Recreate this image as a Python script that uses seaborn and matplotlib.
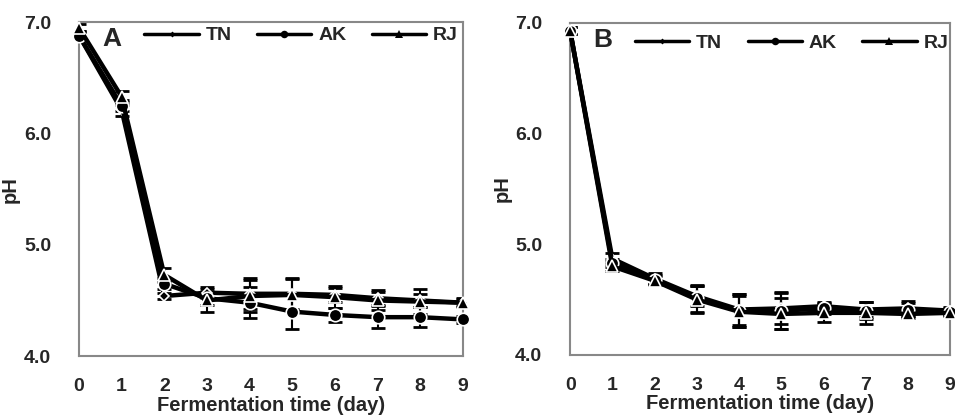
import pandas as pd
import matplotlib.pyplot as plt
import seaborn as sns

# Данные (pH по дням ферментации)
days = [0, 1, 2, 3, 4, 5, 6, 7, 8, 9]
samples = ['TN', 'AK', 'RJ']

# Панель A
a_tn = [6.88, 6.21, 4.54, 4.57, 4.56, 4.56, 4.55, 4.52, 4.50, 4.48]
a_ak = [6.88, 6.25, 4.65, 4.52, 4.48, 4.40, 4.37, 4.35, 4.35, 4.33]
a_rj = [6.95, 6.33, 4.73, 4.50, 4.54, 4.55, 4.53, 4.50, 4.49, 4.48]
a_tn_err = [0.04, 0.05, 0.03, 0.05, 0.14, 0.14, 0.06, 0.06, 0.06, 0.03]
a_ak_err = [0.03, 0.05, 0.05, 0.06, 0.14, 0.16, 0.06, 0.10, 0.09, 0.03]
a_rj_err = [0.03, 0.05, 0.06, 0.10, 0.14, 0.14, 0.10, 0.09, 0.11, 0.04]

# Панель B
b_tn = [6.93, 4.87, 4.69, 4.53, 4.41, 4.42, 4.44, 4.41, 4.42, 4.40]
b_ak = [6.93, 4.83, 4.68, 4.51, 4.40, 4.40, 4.42, 4.40, 4.41, 4.39]
b_rj = [6.93, 4.80, 4.67, 4.50, 4.39, 4.37, 4.38, 4.38, 4.37, 4.38]
b_tn_err = [0.03, 0.05, 0.05, 0.09, 0.14, 0.14, 0.04, 0.07, 0.07, 0.03]
b_ak_err = [0.03, 0.04, 0.04, 0.12, 0.15, 0.17, 0.05, 0.08, 0.06, 0.03]
b_rj_err = [0.03, 0.04, 0.04, 0.12, 0.14, 0.14, 0.08, 0.10, 0.04, 0.03]

markers = {'TN': 'D', 'AK': 'o', 'RJ': '^'}
msizes = {'TN': 5, 'AK': 9, 'RJ': 9}

sns.set_style('white')
plt.rcParams['font.family'] = ['Liberation Sans', 'DejaVu Sans']
plt.rcParams['font.weight'] = 'bold'

fig = plt.figure(figsize=(9.55, 4.18), dpi=100)
ax_a = fig.add_axes([0.0827, 0.148, 0.402, 0.799])
ax_b = fig.add_axes([0.597, 0.151, 0.398, 0.794])


def draw_panel(ax, vals, errs, letter, leg_y):
    rows = []
    for s in samples:
        for d, v in zip(days, vals[s]):
            rows.append({'day': d, 'pH': v, 'sample': s})
    df = pd.DataFrame(rows)

    # Планки погрешностей
    for s in samples:
        ax.errorbar(days, vals[s], yerr=errs[s], fmt='none', ecolor='black',
                    elinewidth=1.5, capsize=5, capthick=2, zorder=1)

    for s in samples:
        sns.lineplot(data=df[df['sample'] == s], x='day', y='pH', ax=ax,
                     color='black', lw=3.2, marker=markers[s], ms=msizes[s],
                     markeredgecolor='white', markeredgewidth=1.2,
                     label=s, zorder=3, clip_on=False)

    ax.set_xlim(0, 9)
    ax.set_ylim(4.0, 7.0)
    ax.set_xticks(days)
    ax.set_yticks([4.0, 5.0, 6.0, 7.0])
    ax.set_yticklabels(['4.0', '5.0', '6.0', '7.0'])
    ax.tick_params(axis='x', direction='in', length=6, width=1.2, color='#888888',
                   pad=16, labelsize=14)
    ax.tick_params(axis='y', direction='in', length=5, width=1.2, color='#888888',
                   pad=20, labelsize=14)
    for lab in ax.get_xticklabels() + ax.get_yticklabels():
        lab.set_fontweight('bold')
    for sp in ax.spines.values():
        sp.set_color('#888888')
        sp.set_linewidth(1.5)
    ax.set_xlabel('Fermentation time (day)', fontsize=14.5, fontweight='bold')
    ax.xaxis.set_label_coords(0.5, -0.118)
    ax.set_ylabel('pH', fontsize=14.5, fontweight='bold')
    ax.yaxis.set_label_coords(-0.155, 0.5)

    ax.text(0.06, 0.985, letter, transform=ax.transAxes, fontsize=19,
            fontweight='bold', va='top', ha='left')
    leg = ax.legend(loc='center left', bbox_to_anchor=(0.15, leg_y), ncol=3,
                    frameon=False, handlelength=2.8, columnspacing=1.3,
                    handletextpad=0.35, markerscale=0.6, borderaxespad=0,
                    prop={'weight': 'bold', 'size': 14})
    for h in leg.legend_handles:
        h.set_linewidth(2.5)
        h.set_markeredgewidth(0)


draw_panel(ax_a, {'TN': a_tn, 'AK': a_ak, 'RJ': a_rj},
           {'TN': a_tn_err, 'AK': a_ak_err, 'RJ': a_rj_err}, 'A', 0.96)
draw_panel(ax_b, {'TN': b_tn, 'AK': b_ak, 'RJ': b_rj},
           {'TN': b_tn_err, 'AK': b_ak_err, 'RJ': b_rj_err}, 'B', 0.94)

fig.savefig('out.png', dpi=100)
